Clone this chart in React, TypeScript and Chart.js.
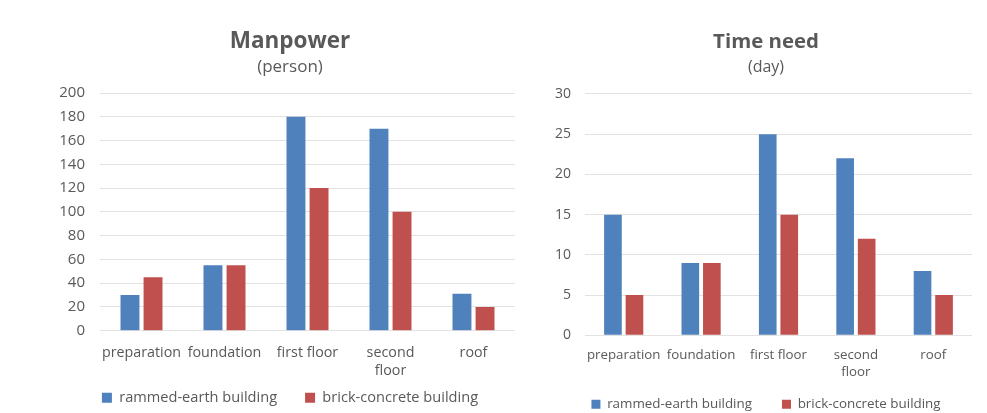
import React, { useEffect, useRef } from "react";
import { Chart, registerables } from "chart.js";

Chart.register(...registerables);

const categories: (string | string[])[] = ["preparation", "foundation", "first floor", ["second", "floor"], "roof"];
const seriesNames = ["rammed-earth building", "brick-concrete building"];

const manpowerRammed = [30, 55, 180, 170, 31];
const manpowerBrick = [45, 55, 120, 100, 20];
const manpowerTicks = [0, 20, 40, 60, 80, 100, 120, 140, 160, 180, 200];

const timeRammed = [15, 9, 25, 22, 8];
const timeBrick = [5, 9, 15, 12, 5];
const timeTicks = [0, 5, 10, 15, 20, 25, 30];

const BLUE = "#4F81BD";
const RED = "#C0504D";
const TEXT = "#595959";
const GRID = "#e2e2e2";
const FONT = "'Open Sans', sans-serif";

type PanelProps = {
  left: number;
  width: number;
  height: number;
  title: string;
  subtitle: string;
  a: number[];
  b: number[];
  ticks: number[];
  padL: number;
  padR: number;
  axisW: number;
  tickPad: number;
  titleSize: number;
  subSize: number;
  titleTop: number;
  subTop: number;
  subBottom: number;
  xHeight: number;
  xPad: number;
  xFont: number;
  yFont: number;
  legendFont: number;
  legendPad: number;
  legendBox: number;
};

function Panel(p: PanelProps) {
  const ref = useRef<HTMLCanvasElement | null>(null);
  useEffect(() => {
    if (!ref.current) return;
    const max = p.ticks[p.ticks.length - 1];
    const step = p.ticks[1] - p.ticks[0];
    const chart = new Chart(ref.current, {
      type: "bar",
      data: {
        labels: categories as any,
        datasets: [
          { label: seriesNames[0], data: p.a, backgroundColor: BLUE, categoryPercentage: 0.556, barPercentage: 0.82 },
          { label: seriesNames[1], data: p.b, backgroundColor: RED, categoryPercentage: 0.556, barPercentage: 0.82 },
        ],
      },
      options: {
        responsive: false,
        animation: false,
        layout: { padding: { left: p.padL, right: p.padR, top: 0, bottom: 0 } },
        plugins: {
          title: {
            display: true,
            text: p.title,
            color: TEXT,
            font: { family: FONT, size: p.titleSize, weight: "bold", lineHeight: 1.2 },
            padding: { top: p.titleTop, bottom: 0 },
          },
          subtitle: {
            display: true,
            text: p.subtitle,
            color: TEXT,
            font: { family: FONT, size: p.subSize, lineHeight: 1.2 },
            padding: { top: p.subTop, bottom: p.subBottom },
          },
          legend: {
            position: "bottom",
            labels: {
              color: TEXT,
              font: { family: FONT, size: p.legendFont },
              boxWidth: p.legendBox,
              boxHeight: p.legendBox,
              padding: p.legendPad,
            },
          },
          tooltip: { enabled: false },
        },
        scales: {
          x: {
            grid: { display: false },
            border: { display: false },
            ticks: {
              color: TEXT,
              font: { family: FONT, size: p.xFont, lineHeight: 1.25 },
              padding: p.xPad,
              maxRotation: 0,
              autoSkip: false,
            },
            afterFit: (s: any) => {
              s.height = p.xHeight;
              s._computeLabelArea = () => undefined;
            },
          },
          y: {
            min: 0,
            max: max,
            grid: { color: GRID, lineWidth: 1, drawTicks: false },
            border: { display: false },
            ticks: {
              stepSize: step,
              color: TEXT,
              font: { family: FONT, size: p.yFont },
              padding: p.tickPad,
            },
            afterFit: (s: any) => {
              s.width = p.axisW;
              s._computeLabelArea = () => undefined;
            },
          },
        },
      },
    });
    return () => chart.destroy();
  }, []);
  return (
    <canvas
      ref={ref}
      width={p.width}
      height={p.height}
      style={{ position: "absolute", left: p.left, top: 0, width: p.width, height: p.height, display: "block" }}
    />
  );
}

export default function App() {
  return (
    <div style={{ position: "absolute", left: 0, top: 0, width: 987, height: 413, background: "#fff", overflow: "hidden" }}>
      <Panel
        left={0}
        width={530}
        height={415}
        title="Manpower"
        subtitle="(person)"
        a={manpowerRammed}
        b={manpowerBrick}
        ticks={manpowerTicks}
        padL={65}
        padR={15}
        axisW={35}
        tickPad={15}
        titleSize={22.5}
        subSize={17}
        titleTop={28.5}
        subTop={1.3}
        subBottom={15.8}
        xHeight={31.7}
        xPad={5}
        xFont={14.3}
        yFont={15}
        legendFont={14.6}
        legendPad={28}
        legendBox={10}
      />
      <Panel
        left={500}
        width={487}
        height={421}
        title="Time need"
        subtitle="(day)"
        a={timeRammed}
        b={timeBrick}
        ticks={timeTicks}
        padL={60}
        padR={15}
        axisW={25}
        tickPad={14}
        titleSize={20.4}
        subSize={16}
        titleTop={29.75}
        subTop={3.15}
        subBottom={17.4}
        xHeight={32.3}
        xPad={4}
        xFont={13.3}
        yFont={14}
        legendFont={13.4}
        legendPad={30}
        legendBox={9}
      />
    </div>
  );
}
